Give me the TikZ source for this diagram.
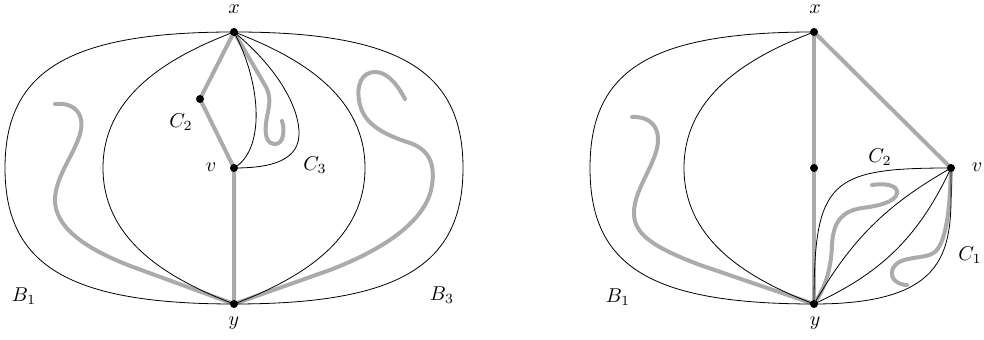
\documentclass[tikz,border=0pt]{standalone}
\begin{document}
\begin{tikzpicture}[x=0.5pt,y=-0.5pt,sq/.style={line width=2pt,black!33,line cap=round,line join=round}]
\useasboundingbox (0,0) rectangle (984,340);
% left picture
\coordinate (xa) at (234,32); \coordinate (ya) at (234,304);
\coordinate (va) at (234,168); \coordinate (ca) at (200,99);
\draw[sq] (xa) -- (ca) -- (va) -- (ya);
\draw[sq] (xa) -- (266,87) .. controls (270,95) and (270,102) .. (268,112)
   .. controls (265,125) and (263,143) .. (274,144) .. controls (284,145) and (285,130) .. (282,121);
\draw[sq] (55,104) .. controls (75,102) and (88,115) .. (78,140) .. controls (70,160) and (55,180) .. (55,200)
   .. controls (55,225) and (80,247) .. (133,267) -- (ya);
\draw[sq] (405,99) .. controls (395,80) and (385,72) .. (375,72) .. controls (362,72) and (355,85) .. (360,105)
   .. controls (365,125) and (385,135) .. (410,143) .. controls (430,150) and (435,165) .. (432,185)
   .. controls (428,215) and (395,245) .. (330,270) -- (ya);
\draw (xa) .. controls (70,32) and (5,70) .. (5,168) .. controls (5,266) and (70,304) .. (ya);
\draw (xa) .. controls (398,32) and (463,70) .. (463,168) .. controls (463,266) and (398,304) .. (ya);
\draw (xa) .. controls (160,60) and (103,100) .. (103,168) .. controls (103,236) and (160,276) .. (ya);
\draw (xa) .. controls (308,60) and (365,100) .. (365,168) .. controls (365,236) and (308,276) .. (ya);
\draw (xa) .. controls (262,85) and (265,150) .. (va);
\draw (xa) .. controls (280,70) and (300,110) .. (299,135) .. controls (298,165) and (260,168) .. (va);
\node (lxa) at (234,9) {$x$};
\node (lya) at (234,323) {$y$};
\node (lva) at (211,167) {$v$};
\node (lca) at (181,122) {$C_2$};
\node (lc3) at (315,165) {$C_3$};
\node (lb1) at (24,296) {$B_1$};
\node (lb3) at (442,295) {$B_3$};
% right picture
\coordinate (xb) at (814,32); \coordinate (yb) at (814,304);
\coordinate (mb) at (814,168); \coordinate (vb) at (951,168);
\draw[sq] (xb) -- (mb) -- (yb);
\draw[sq] (xb) -- (vb);
\draw[sq] (632,117) .. controls (652,116) and (664,130) .. (655,155) .. controls (648,175) and (633,195) .. (634,215)
   .. controls (635,235) and (655,248) .. (700,265) -- (yb);
\draw[sq] (872,185) .. controls (885,183) and (898,185) .. (897,193) .. controls (896,202) and (878,206) .. (862,208)
   .. controls (842,211) and (833,222) .. (832,245) .. controls (831,275) and (822,292) .. (yb);
\draw[sq] (vb) .. controls (950,200) and (948,240) .. (935,252) .. controls (925,260) and (900,255) .. (893,268)
   .. controls (888,280) and (900,285) .. (907,285);
\draw (xb) .. controls (650,32) and (590,70) .. (590,168) .. controls (590,266) and (650,304) .. (yb);
\draw (xb) .. controls (740,60) and (684,100) .. (684,168) .. controls (684,236) and (740,276) .. (yb);
\draw (yb) .. controls (960,304) and (951,240) .. (vb);
\draw (yb) .. controls (814,180) and (830,168) .. (vb);
\draw (yb) to[bend left=15] (vb);
\draw (yb) to[bend right=20] (vb);
\node (lxb) at (815,9) {$x$};
\node (lyb) at (815,323) {$y$};
\node (lvb) at (977,167) {$v$};
\node (lcb) at (880,157) {$C_2$};
\node (lc1) at (970,255) {$C_1$};
\node (lb1b) at (618,297) {$B_1$};
\foreach \p in {xa,ya,va,ca,xb,yb,mb,vb}
   \fill (\p) circle (2pt);
\end{tikzpicture}
\end{document}
